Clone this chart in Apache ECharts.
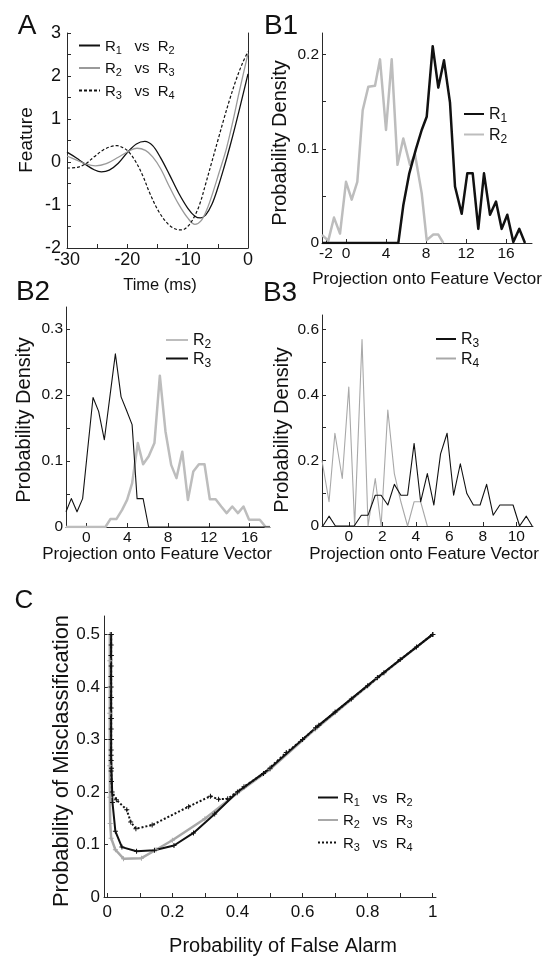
<!DOCTYPE html>
<html><head><meta charset="utf-8">
<script src="https://cdn.jsdelivr.net/npm/echarts@6/dist/echarts.min.js"></script>
<style>html,body{margin:0;padding:0;background:#fff}#c{width:548px;height:958px}</style>
</head><body><div id="c"></div>
<script>
// ---------- Panel A : feature vectors ----------
const A_R1R2 = [[-30,0.23],[-28.5,0.1],[-27,-0.05],[-25.5,-0.18],[-24.3,-0.23],[-23,-0.19],[-21.5,-0.03],[-20,0.22],[-18.5,0.42],[-17.1,0.48],[-15.8,0.38],[-14.5,0.1],[-13,-0.3],[-11.5,-0.72],[-10,-1.07],[-8.8,-1.26],[-7.9,-1.3],[-7,-1.23],[-6,-0.99],[-5,-0.6],[-4,-0.14],[-3,0.36],[-2,0.9],[-1,1.47],[0,2.05]];
const A_R2R3 = [[-30,0.14],[-28.5,0.05],[-27,-0.04],[-25.3,-0.09],[-23.5,-0.04],[-21.5,0.11],[-19.8,0.25],[-18.4,0.32],[-17,0.27],[-15.8,0.12],[-14.5,-0.15],[-13,-0.58],[-11.5,-0.98],[-10,-1.3],[-8.8,-1.45],[-7.8,-1.37],[-6.8,-1.1],[-5.8,-0.7],[-4.8,-0.25],[-3.6,0.3],[-2.5,0.95],[-1.5,1.6],[0,2.52]];
const A_R3R4 = [[-30,-0.14],[-28.5,-0.13],[-27,-0.05],[-25.5,0.12],[-24,0.28],[-22.7,0.36],[-21.7,0.38],[-20.7,0.33],[-19.8,0.24],[-18.7,0.03],[-17.5,-0.3],[-16.2,-0.75],[-14.8,-1.15],[-13.2,-1.45],[-11.8,-1.57],[-11,-1.58],[-10,-1.5],[-9,-1.3],[-8,-0.98],[-7,-0.5],[-6,0.0],[-5,0.5],[-4,1.0],[-3,1.47],[-2,1.9],[-1,2.27],[0,2.57]];
const A_X_LABELS = [-30,-20,-10,0];
const A_X_TICKS = [-30,-25,-20,-15,-10,-5,0];
const A_Y_LABELS = [-2,-1,0,1,2,3];
const A_Y_TICKS = [-2,-1.5,-1,-0.5,0,0.5,1,1.5,2,2.5,3];

// ---------- Panel B1 ----------
const B1_R1 = [[-2.4,0],[5.23,0],[5.73,0.04],[6.33,0.074],[7.0,0.1],[7.57,0.12],[8.07,0.134],[8.67,0.209],[9.23,0.165],[9.8,0.194],[10.4,0.149],[10.9,0.06],[11.57,0.031],[12.13,0.074],[12.67,0.074],[13.23,0.015],[13.8,0.074],[14.4,0.03],[15.0,0.044],[15.57,0.015],[16.13,0.03],[16.73,0.001],[17.33,0.015],[17.9,0.0]];
const B1_R2 = [[-2.4,0.0085],[-1.77,0.0025],[-1.2,0.027],[-0.6,0.01],[0,0.065],[0.57,0.046],[1.13,0.065],[1.67,0.141],[2.23,0.166],[2.9,0.167],[3.4,0.195],[4.0,0.12],[4.57,0.195],[5.15,0.083],[5.73,0.111],[6.4,0.083],[6.9,0.094],[7.57,0.053],[8.07,0.003],[8.73,0.009],[9.23,0.009],[9.73,0.0]];
const B1_X_LABELS = [-2,0,4,8,12,16];
const B1_Y_LABELS = [0,0.1,0.2];
const B1_Y_TICKS = [0,0.05,0.1,0.15,0.2];

// ---------- Panel B2 ----------
const B2_R2 = [[-2,0],[1.86,0],[2.35,0.012],[2.94,0.012],[3.5,0.026],[3.99,0.041],[4.48,0.066],[5.04,0.127],[5.56,0.095],[6.11,0.107],[6.67,0.127],[7.2,0.229],[7.75,0.145],[8.31,0.094],[8.83,0.074],[9.4,0.114],[9.95,0.041],[10.48,0.084],[11.03,0.095],[11.58,0.095],[12.1,0.042],[12.67,0.042],[13.22,0.031],[13.75,0.021],[14.3,0.031],[14.86,0.021],[15.4,0.031],[15.95,0.011],[16.5,0.011],[17.0,0.011],[17.58,0],[18,0]];
const B2_R3 = [[-2,0.023],[-1.48,0.043],[-0.92,0.023],[-0.37,0.043],[0.12,0.117],[0.65,0.196],[1.2,0.175],[1.76,0.132],[2.3,0.197],[2.84,0.262],[3.4,0.197],[3.92,0.177],[4.48,0.155],[4.97,0.043],[5.56,0.043],[6.1,0],[18,0]];
const B2_X_LABELS = [0,4,8,12,16];
const B2_Y_LABELS = [0,0.1,0.2,0.3];
const B2_Y_TICKS = [0,0.05,0.1,0.15,0.2,0.25,0.3];

// ---------- Panel B3 ----------
const B3_R3 = [[-1.55,0],[-1.18,0.03],[-0.8,0],[-0.4,0],[0,0],[0.32,0],[0.75,0.033],[1.15,0.033],[1.58,0.094],[1.93,0.094],[2.33,0.064],[2.72,0.127],[3.11,0.094],[3.51,0.094],[3.9,0.252],[4.29,0.074],[4.69,0.16],[5.08,0.064],[5.48,0.22],[5.87,0.283],[6.26,0.094],[6.66,0.19],[7.05,0.099],[7.44,0.064],[7.84,0.064],[8.23,0.127],[8.62,0.033],[9.02,0.064],[9.41,0.064],[9.81,0.064],[10.2,0],[10.6,0.03],[10.95,0]];
const B3_R4 = [[-1.6,0.2],[-1.18,0.074],[-0.83,0.283],[-0.39,0.145],[0,0.424],[0.35,0],[0.79,0.569],[1.15,0],[1.58,0.145],[1.93,0],[2.33,0.354],[2.72,0.16],[3.11,0.074],[3.51,0],[3.9,0.074],[4.29,0.074],[4.69,0]];
const B3_X_LABELS = [0,2,4,6,8,10];
const B3_Y_LABELS = [0,0.2,0.4,0.6];
const B3_Y_TICKS = [0,0.1,0.2,0.3,0.4,0.5,0.6];

// ---------- Panel C ----------
const C_R1R2 = [[0.012,0.5],[0.012,0.46],[0.012,0.42],[0.012,0.38],[0.012,0.34],[0.012,0.3],[0.012,0.27],[0.013,0.245],[0.016,0.18],[0.025,0.125],[0.045,0.095],[0.09,0.087],[0.145,0.089],[0.205,0.098],[0.265,0.122],[0.33,0.158],[0.4,0.2],[0.5,0.245],[0.64,0.322],[0.83,0.418],[1.0,0.5]];
const C_R2R3 = [[0.008,0.5],[0.008,0.45],[0.008,0.4],[0.008,0.35],[0.008,0.3],[0.008,0.25],[0.008,0.19],[0.009,0.14],[0.012,0.112],[0.025,0.09],[0.05,0.073],[0.105,0.074],[0.15,0.09],[0.2,0.108],[0.3,0.149],[0.4,0.198],[0.5,0.243],[0.64,0.32],[0.83,0.417],[1.0,0.5]];
const C_R3R4 = [[0.012,0.5],[0.012,0.48],[0.012,0.46],[0.012,0.44],[0.012,0.42],[0.012,0.4],[0.012,0.38],[0.012,0.36],[0.012,0.34],[0.012,0.32],[0.012,0.3],[0.012,0.28],[0.012,0.26],[0.012,0.24],[0.013,0.22],[0.015,0.2],[0.028,0.185],[0.06,0.166],[0.072,0.143],[0.088,0.13],[0.138,0.137],[0.25,0.172],[0.317,0.192],[0.342,0.186],[0.37,0.187],[0.42,0.21],[0.48,0.235],[0.55,0.275],[0.6,0.3],[0.65,0.327],[0.7,0.352],[0.75,0.377],[0.8,0.402],[0.85,0.427],[0.9,0.452],[0.95,0.476],[1.0,0.5]];
const C_X_LABELS = [0,0.2,0.4,0.6,0.8,1];
const C_X_TICKS = [0,0.1,0.2,0.3,0.4,0.5,0.6,0.7,0.8,0.9,1];
const C_Y_LABELS = [0,0.1,0.2,0.3,0.4,0.5];

// legend subscripts [first, second] per series
const LEGEND_TEXT = {
  A12:['1','2'], A23:['2','3'], A34:['3','4'],
  C12:['1','2'], C23:['2','3'], C34:['3','4'],
  B1a:['1'], B1b:['2'], B2a:['2'], B2b:['3'], B3a:['3'], B3b:['4']
};

const TICK_FONT = '"Liberation Sans Narrow", "Liberation Sans", Arial, sans-serif';
const TXT_FONT = '"Liberation Sans", Arial, sans-serif';
const AX = '#2a2a2a';
const GRAY_A = '#9a9a9a', GRAY_B = '#bdbdbd', GRAY_C = '#a8a8a8';

function axis(o) {
  return {
    type: 'value', gridIndex: o.g, min: o.min, max: o.max, position: o.pos,
    axisLine: { show: true, onZero: false, lineStyle: { color: AX, width: 1 } },
    axisTick: { show: o.ticks !== null, inside: true, length: 4, customValues: o.ticks || o.labels, lineStyle: { color: AX, width: 1 } },
    axisLabel: { show: !!o.labels, customValues: o.labels || [], margin: o.margin, color: '#111', fontFamily: TICK_FONT, fontSize: o.fs },
    splitLine: { show: false }
  };
}
function plus() { return 'path://M2,0h1v2h2v1h-2v2h-1v-2h-2v-1h2z'; }

function legendText(name) {
  const s = LEGEND_TEXT[name];
  if (s.length === 1) return '{r|R}{s|' + s[0] + '}';
  return '{r|R}{s|' + s[0] + '}   {r|vs}  {r|R}{s|' + s[1] + '}';
}
function richFor(fs) {
  return { r: { fontSize: fs, fontFamily: TXT_FONT, color: '#111', lineHeight: fs + 2, verticalAlign: 'bottom' },
           s: { fontSize: Math.round(fs * 0.72), fontFamily: TXT_FONT, color: '#111', lineHeight: fs + 2, verticalAlign: 'bottom', padding: [0, 0, -2, 0] } };
}
function legend(o) {
  return {
    data: o.data, orient: 'vertical', left: o.left, top: o.top, itemWidth: o.w, itemHeight: 12, itemGap: o.gap,
    selectedMode: false, formatter: legendText, padding: 0,
    textStyle: { fontSize: o.fs, fontFamily: TXT_FONT, color: '#111', rich: richFor(o.fs) },
    itemStyle: { opacity: 0 }
  };
}
function line(name, xi, yi, data, color, width, extra) {
  return Object.assign({
    name, type: 'line', xAxisIndex: xi, yAxisIndex: yi, data, symbol: 'none', clip: true,
    lineStyle: { color, width, join: 'round' }, itemStyle: { color }, emphasis: { disabled: true }, animation: false
  }, extra || {});
}
function txt(text, x, y, fs, rot) {
  return { type: 'text', x, y, rotation: rot ? Math.PI / 2 : 0, silent: true,
    style: { text, font: fs + 'px ' + TXT_FONT, fill: '#111', textAlign: 'center', textVerticalAlign: 'middle' } };
}

const option = {
  backgroundColor: '#fff',
  animation: false,
  grid: [
    { left: 67, top: 33, width: 181, height: 215 },
    { left: 322, top: 33, width: 210, height: 210 },
    { left: 66, top: 307, width: 204, height: 220 },
    { left: 322, top: 315, width: 211, height: 211 },
    { left: 104, top: 616, width: 332, height: 281 }
  ],
  xAxis: [
    axis({ g: 0, min: -30, max: 0, labels: A_X_LABELS, ticks: A_X_TICKS, fs: 18, margin: 3 }),
    axis({ g: 1, min: -2.4, max: 18.6, labels: B1_X_LABELS, ticks: B1_X_LABELS, fs: 15.5, margin: 3 }),
    axis({ g: 2, min: -2, max: 18, labels: B2_X_LABELS, ticks: B2_X_LABELS, fs: 15.5, margin: 3 }),
    axis({ g: 3, min: -1.6, max: 11, labels: B3_X_LABELS, ticks: B3_X_LABELS, fs: 15.5, margin: 3 }),
    axis({ g: 4, min: -0.01, max: 1.01, labels: C_X_LABELS, ticks: C_X_TICKS, fs: 17, margin: 7 })
  ],
  yAxis: [
    axis({ g: 0, min: -2, max: 3, labels: A_Y_LABELS, ticks: A_Y_TICKS, fs: 18, margin: 6 }),
    axis({ g: 1, min: 0, max: 0.223, labels: B1_Y_LABELS, ticks: B1_Y_TICKS, fs: 15.5, margin: 3 }),
    axis({ g: 2, min: 0, max: 0.333, labels: B2_Y_LABELS, ticks: B2_Y_TICKS, fs: 15.5, margin: 3 }),
    axis({ g: 3, min: 0, max: 0.644, labels: B3_Y_LABELS, ticks: B3_Y_TICKS, fs: 15.5, margin: 3 }),
    axis({ g: 4, min: 0, max: 0.535, labels: C_Y_LABELS, ticks: C_Y_LABELS, fs: 17, margin: 4 }),
    axis({ g: 0, min: -2, max: 3, labels: null, ticks: null, pos: 'right', fs: 10, margin: 3 })
  ],
  legend: [
    legend({ data: ['A12', 'A23', 'A34'], left: 78, top: 38, w: 21, gap: 4.5, fs: 15 }),
    legend({ data: ['B1a', 'B1b'], left: 463, top: 107, w: 20, gap: 2.5, fs: 16 }),
    legend({ data: ['B2a', 'B2b'], left: 165, top: 333, w: 22, gap: 0.5, fs: 16 }),
    legend({ data: ['B3a', 'B3b'], left: 435, top: 332, w: 20, gap: 1.5, fs: 16 }),
    legend({ data: ['C12', 'C23', 'C34'], left: 317, top: 790, w: 20, gap: 4.5, fs: 15 })
  ],
  series: [
    line('A12', 0, 0, A_R1R2, '#111', 1.3, { smooth: 0.35 }),
    line('A23', 0, 0, A_R2R3, GRAY_A, 1.3, { smooth: 0.35 }),
    line('A34', 0, 0, A_R3R4, '#111', 1.2, { smooth: 0.35, lineStyle: { color: '#111', width: 1.2, type: [3, 2] } }),
    line('B1b', 1, 1, B1_R2, GRAY_B, 2.5),
    line('B1a', 1, 1, B1_R1, '#111', 2.5),
    line('B2a', 2, 2, B2_R2, GRAY_B, 2.5),
    line('B2b', 2, 2, B2_R3, '#111', 1.1),
    line('B3b', 3, 3, B3_R4, GRAY_C, 1.1),
    line('B3a', 3, 3, B3_R3, '#111', 1.1),
    line('C23', 4, 4, C_R2R3, GRAY_C, 2.5, { symbol: plus(), symbolSize: 5, showSymbol: true, itemStyle: { color: GRAY_C } }),
    line('C12', 4, 4, C_R1R2, '#111', 2, { symbol: plus(), symbolSize: 5, showSymbol: true }),
    line('C34', 4, 4, C_R3R4, '#111', 2, { symbol: plus(), symbolSize: 5, showSymbol: true, lineStyle: { color: '#111', width: 2, type: [2, 2] } })
  ],
  graphic: [
    txt('A', 27, 26, 28), txt('B1', 281, 26, 28), txt('B2', 33, 292, 28), txt('B3', 280, 293, 28), txt('C', 24, 601, 26),
    txt('Feature', 27, 140, 19, true), txt('Time (ms)', 160, 285, 16.5),
    txt('Probability Density', 280, 143, 20, true), txt('Projection onto Feature Vector', 427, 279, 17),
    txt('Probability Density', 24, 420, 20, true), txt('Projection onto Feature Vector', 157, 554, 17),
    txt('Probability Density', 282, 430, 20, true), txt('Projection onto Feature Vector', 424, 554, 17),
    txt('Probability of Misclassification', 62, 761, 22, true), txt('Probability of False Alarm', 283, 946, 20)
  ]
};
const chart = echarts.init(document.getElementById('c'), null, { renderer: 'canvas' });
chart.setOption(option);
</script></body></html>
